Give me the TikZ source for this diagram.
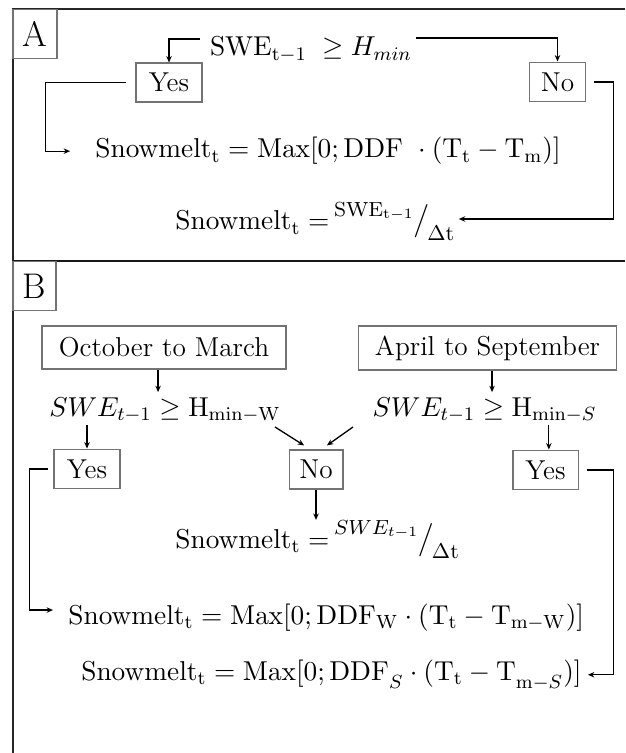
\RequirePackage{fix-cm}
\documentclass[tikz,border=0pt]{standalone}
\usetikzlibrary{arrows.meta}
\newcommand{\mfs}{\fontsize{11.5}{13.5}\selectfont}
\newcommand{\supfs}{\fontsize{8.6}{10}\selectfont}
\newcommand{\subfs}{\fontsize{9}{10}\selectfont}
\newcommand{\slashfrac}[2]{\,\raisebox{0.5em}{\supfs#1}\kern-0.3pt{\fontsize{14}{16}\selectfont/}\kern-0.8pt\raisebox{-0.38em}{\subfs#2}}
\tikzset{
  txt/.style={inner sep=0pt, font=\mfs},
  bx/.style={draw=black!55, line width=0.45pt, inner sep=0pt, font=\mfs},
  lbl/.style={draw=black!55, line width=0.45pt, inner sep=0pt, font=\fontsize{15}{17}\selectfont},
  arr/.style={line width=0.55pt, -{Stealth[length=2.7pt,width=2.3pt]}},
  frameline/.style={line width=0.7pt, black!85},
  divline/.style={line width=1.1pt, black!90}
}
\begin{document}
\begin{tikzpicture}[x=0.421pt,y=-0.421pt]
\useasboundingbox (0,0) rectangle (625,753);
% frame
\draw[frameline] (625,9) -- (13,9) -- (13,753);
\draw[divline] (13,261) -- (625,261);
% ---------- panel A ----------
\node[lbl, minimum width=18.5pt, minimum height=21pt] (la) at (35,34) {A};
\node[txt, anchor=base] (swea) at (311,56) {$\mathrm{SWE_{t-1}}\;\geq H_{min}$};
\node[bx, minimum width=27.8pt, minimum height=16.4pt] (yesa) at (169,82.5) {Yes};
\node[bx, minimum width=23.2pt, minimum height=16.8pt] (noa) at (557.5,82) {No};
\node[txt, anchor=base west] (f1) at (95,158) {$\mathrm{Snowmelt_t = Max[0; DDF\ \cdot (T_t - T_m)]}$};
\node[txt, anchor=base west] (f2) at (175,230) {$\mathrm{Snowmelt_t} =$\slashfrac{$\mathrm{SWE_{t-1}}$}{$\Delta\mathrm{t}$}};
\coordinate (sa1) at (200,39);
\coordinate (sa2) at (416,38);
\draw[arr] (sa1) -| (yesa.north);
\draw[arr] (sa2) -| (noa.north);
\draw[arr] ([xshift=-3.8pt]yesa.west) -- ++(-81,0) |- ([xshift=-10.5pt]f1.west);
\draw[arr] ([xshift=3.4pt]noa.east) -- ++(20,0) |- ([xshift=1.7pt,yshift=1pt]f2.east);
% ---------- panel B ----------
\node[lbl, minimum width=18.1pt, minimum height=21pt] (lb) at (34.5,286) {B};
\node[bx, minimum width=102.7pt, minimum height=18.1pt] (oct) at (164,347.5) {October to March};
\node[bx, minimum width=109pt, minimum height=18.5pt] (apr) at (487.5,348) {April to September};
\node[txt, anchor=base] (swew) at (165,416) {$SWE_{t-1} \geq \mathrm{H_{min-W}}$};
\node[txt, anchor=base] (swes) at (484.5,416) {$SWE_{t-1} \geq \mathrm{H}_{\mathrm{min}-S}$};
\node[bx, minimum width=27.8pt, minimum height=16.8pt] (yesbl) at (87,469) {Yes};
\node[bx, minimum width=22.7pt, minimum height=16.4pt] (nob) at (316,469.5) {No};
\node[bx, minimum width=27.4pt, minimum height=16.8pt] (yesbr) at (545.5,470) {Yes};
\node[txt, anchor=base west] (fd) at (175,548) {$\mathrm{Snowmelt_t} =$\slashfrac{$SWE_{t-1}$}{$\Delta\mathrm{t}$}};
\node[txt, anchor=base west] (fw) at (68,624) {$\mathrm{Snowmelt_t = Max[0; DDF_W \cdot (T_t - T_{m-W})]}$};
\node[txt, anchor=base east] (fs) at (582,680) {$\mathrm{Snowmelt_t = Max[0; DDF}_S \cdot \mathrm{(T_t - T}_{\mathrm{m}-S}\mathrm{)]}$};
\coordinate (o1) at ([xshift=-2.5pt]oct.south);
\coordinate (a1) at ([xshift=1.9pt]apr.south);
\draw[arr, shorten >=2pt] (o1) -- (o1 |- swew.north);
\draw[arr, shorten >=2pt] (a1) -- (a1 |- swes.north);
\draw[arr, shorten <=1pt] (swew.south -| yesbl.north) -- (yesbl.north);
\draw[arr, shorten <=1pt] ([xshift=1.4pt]swes.south -| yesbr.north) -- ([xshift=1.4pt]yesbr.north);
\coordinate (dw) at (275,427);
\coordinate (ds) at (353,427);
\draw[arr] (dw) -- ([xshift=-5pt,yshift=1.7pt]nob.north);
\draw[arr] (ds) -- ([xshift=4.6pt,yshift=1.7pt]nob.north);
\draw[arr] (nob.south) -- (nob.south |- fd.north);
\draw[arr] ([xshift=-2.5pt]yesbl.west) -- ++(-18,0) |- ([xshift=-6.3pt,yshift=3pt]fw.west);
\draw[arr] ([xshift=3.4pt]yesbr.east) -- ++(27,0) |- ([xshift=2.5pt]fs.east);
\end{tikzpicture}
\end{document}
